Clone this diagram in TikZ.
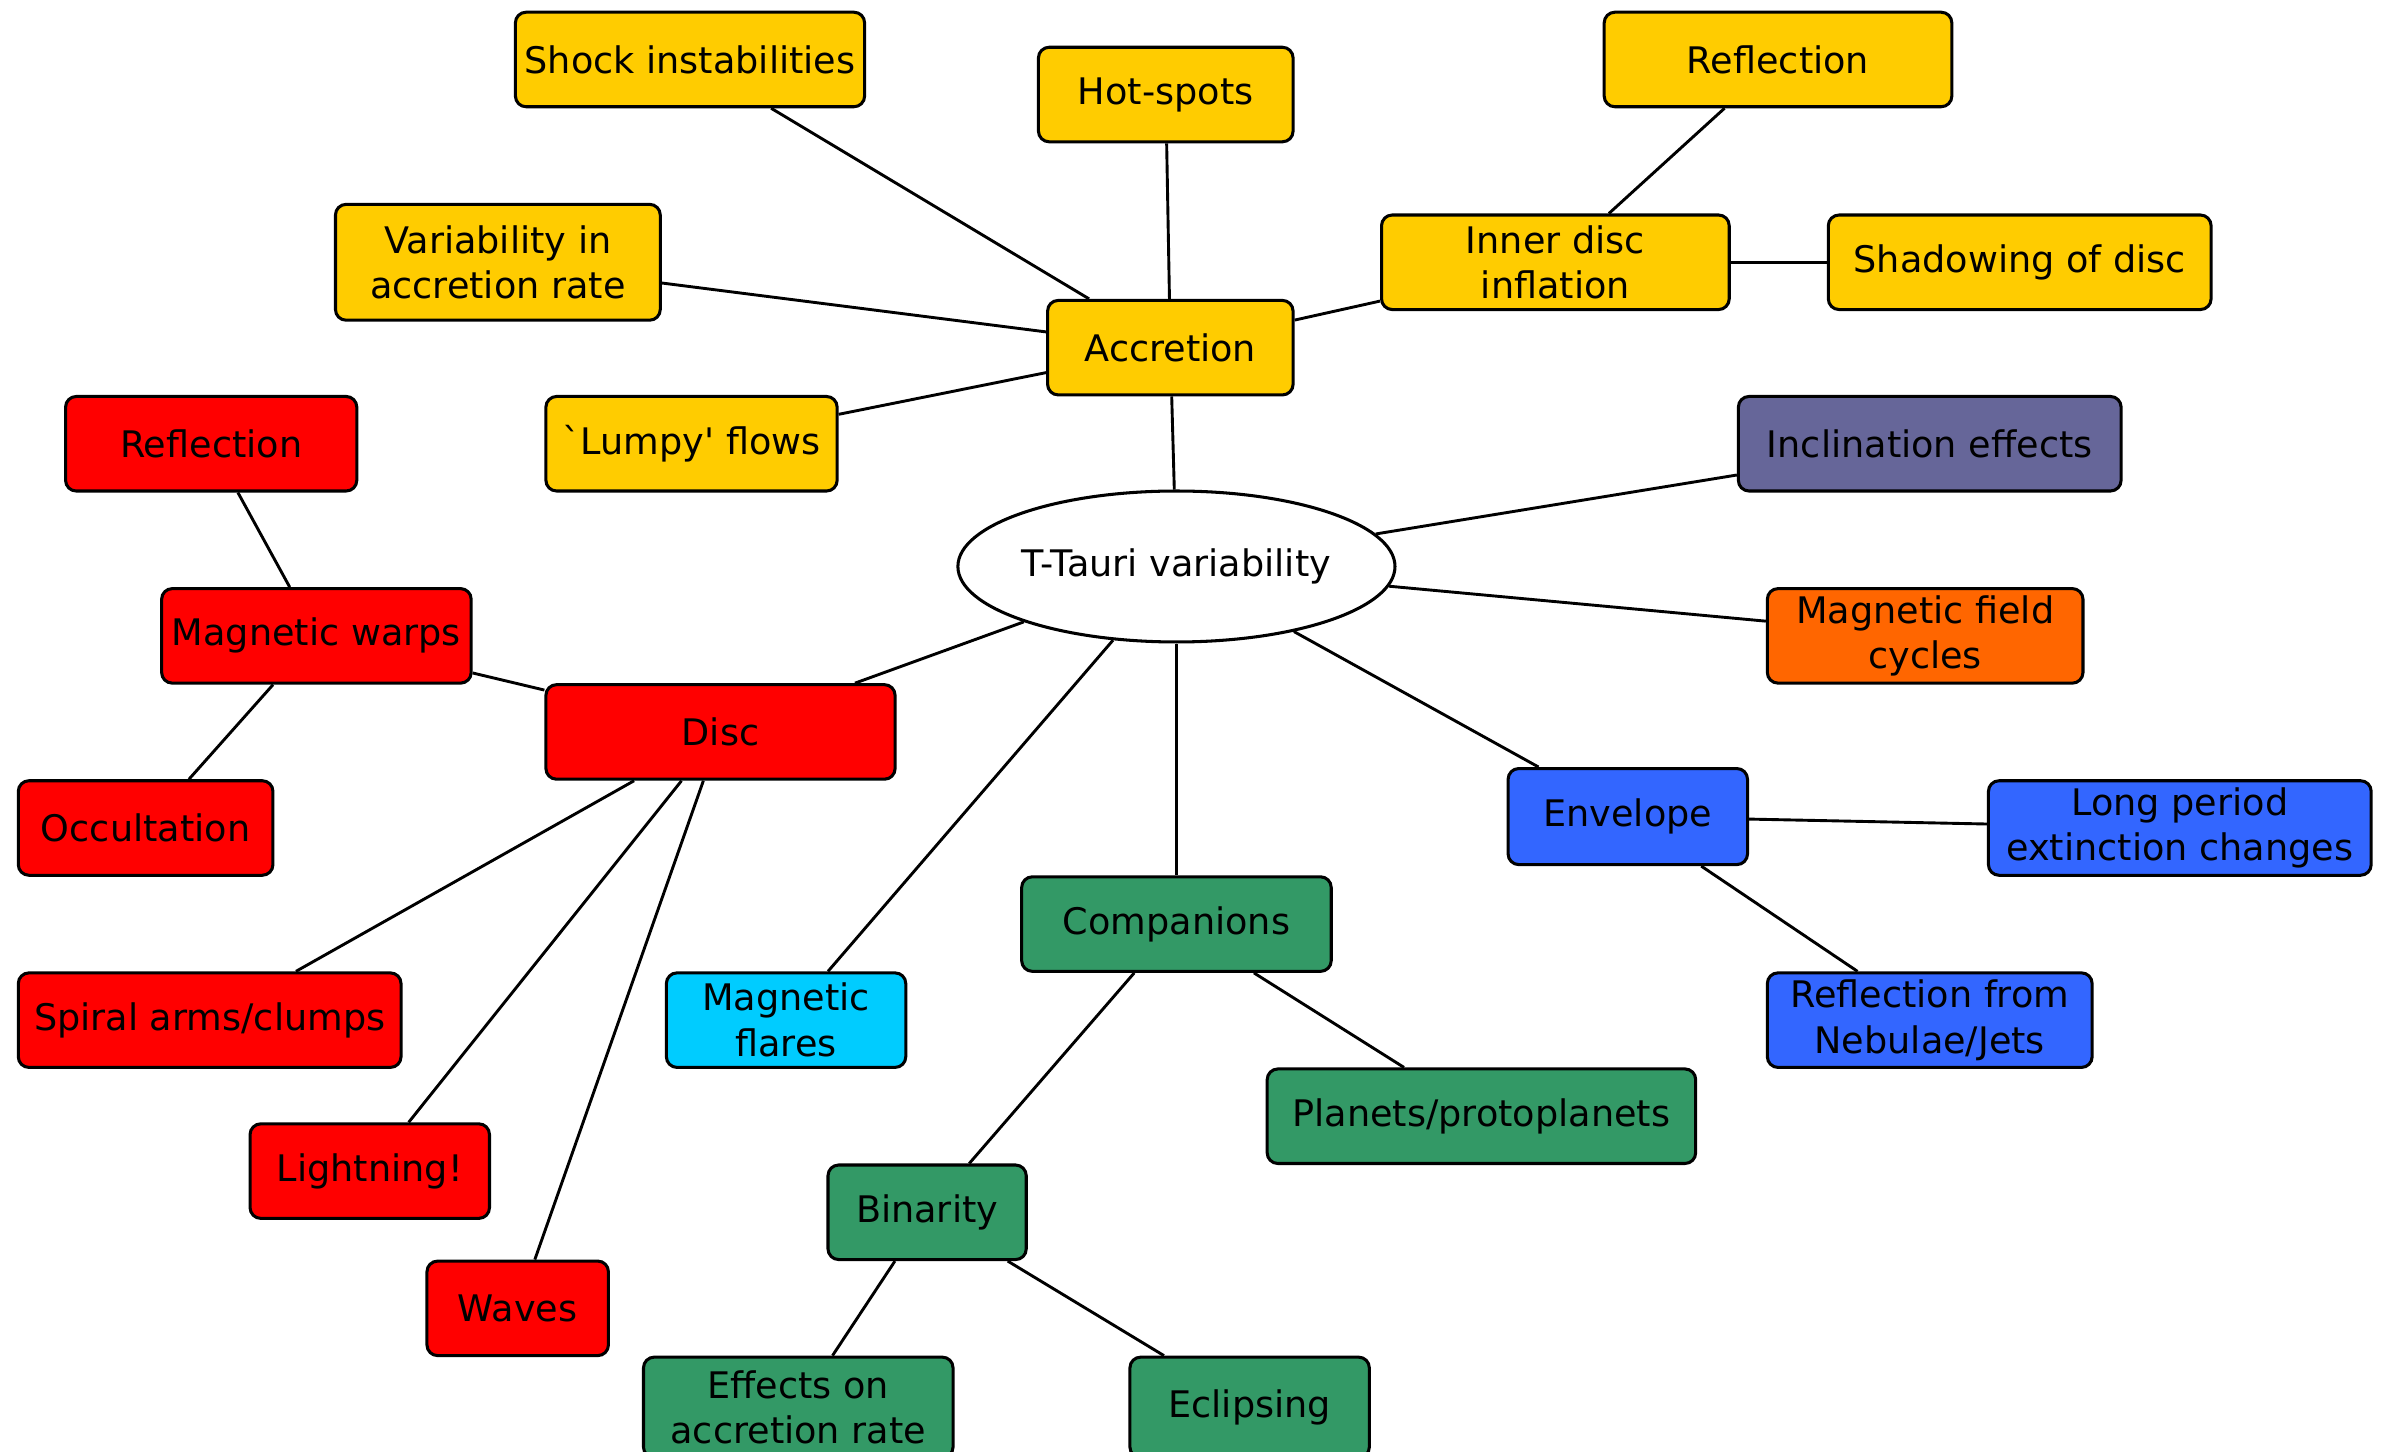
\documentclass[tikz,border=0pt]{standalone}
\usepackage{fontspec}
\setmainfont{DejaVu Sans}[Ligatures=TeXOff]
\usetikzlibrary{shapes.geometric}
\definecolor{cyel}{HTML}{FFCC00}
\definecolor{cred}{HTML}{FF0000}
\definecolor{cpur}{HTML}{666699}
\definecolor{cora}{HTML}{FF6600}
\definecolor{cblu}{HTML}{3366FF}
\definecolor{ccya}{HTML}{00CCFF}
\definecolor{cgre}{HTML}{339966}
\tikzset{
  box/.style={draw, line width=2pt, rounded corners=7pt, inner sep=0pt, align=center,
    font=\fontsize{24}{30}\selectfont},
  link/.style={line width=1.9pt},
}
\newcommand{\bx}[7]{\node[box, fill=#1, minimum width=#4pt, minimum height=#5pt] (#2) at (#6,#7) {#3};}
\begin{document}
\begin{tikzpicture}[x=1pt,y=-1pt]
\useasboundingbox[fill=white] (0,0) rectangle (1568,952);
% accretion group
\bx{cyel}{shock}{Shock instabilities}{229}{62}{452.5}{39}
\bx{cyel}{hot}{Hot-spots}{167}{62}{764.5}{62}
\bx{cyel}{refa}{Reflection}{228}{62}{1166}{39}
\bx{cyel}{varr}{Variability in\\accretion rate}{213}{76}{326.5}{172}
\bx{cyel}{inner}{Inner disc\\inflation}{228}{62}{1020}{172}
\bx{cyel}{shad}{Shadowing of disc}{251}{62}{1324.5}{172}
\bx{cyel}{acc}{Accretion}{161}{62}{767.5}{228}
\bx{cyel}{lumpy}{`Lumpy' flows}{191}{62}{453.5}{291}
% disc group
\bx{cred}{refd}{Reflection}{191}{62}{138.5}{291}
\bx{cred}{warp}{Magnetic warps}{203}{62}{207.5}{417}
\bx{cred}{disc}{Disc}{229}{62}{472.5}{480}
\bx{cred}{occ}{Occultation}{167}{62}{95.5}{543}
\bx{cred}{spiral}{Spiral arms/clumps}{251}{62}{137.5}{669}
\bx{cred}{light}{Lightning!}{157}{62}{242.5}{768}
\bx{cred}{waves}{Waves}{119}{62}{339.5}{858}
% others
\bx{cpur}{incl}{Inclination effects}{251}{62}{1265.5}{291}
\bx{cora}{mfc}{Magnetic field\\cycles}{207}{62}{1262.5}{417}
\bx{cblu}{env}{Envelope}{157}{63}{1067.5}{535.5}
\bx{cblu}{longp}{Long period\\extinction changes}{251}{62}{1429.5}{543}
\bx{cblu}{refn}{Reflection from\\Nebulae/Jets}{213}{62}{1265.5}{669}
\bx{ccya}{flares}{Magnetic\\flares}{157}{62}{515.5}{669}
\bx{cgre}{comp}{Companions}{203}{62}{771.5}{606}
\bx{cgre}{plan}{Planets/protoplanets}{281}{62}{971.5}{732}
\bx{cgre}{bin}{Binarity}{130}{62}{608}{795}
\bx{cgre}{effa}{Effects on\\accretion rate}{203}{66}{523.5}{923}
\bx{cgre}{ecl}{Eclipsing}{157}{66}{819.5}{923}
% centre
\node[draw, ellipse, line width=2pt, fill=white, inner sep=0pt, minimum width=281pt, minimum height=99pt,
  font=\fontsize{24}{30}\selectfont] (tt) at (771.5,371.5) {T-Tauri variability};
% links
\draw[link] (tt) -- (acc);
\draw[link] (acc) -- (shock);
\draw[link] (acc) -- (hot);
\draw[link] (acc) -- (varr);
\draw[link] (acc) -- (lumpy);
\draw[link] (acc) -- (inner);
\draw[link] (inner) -- (refa);
\draw[link] (inner) -- (shad);
\draw[link] (tt) -- (incl);
\draw[link] (tt) -- (mfc);
\draw[link] (tt) -- (env);
\draw[link] (env) -- (longp);
\draw[link] (env) -- (refn);
\draw[link] (tt) -- (comp);
\draw[link] (comp) -- (plan);
\draw[link] (comp) -- (bin);
\draw[link] (bin) -- (effa);
\draw[link] (bin) -- (ecl);
\draw[link] (tt) -- (flares);
\draw[link] (tt) -- (disc);
\draw[link] (disc) -- (warp);
\draw[link] (warp) -- (refd);
\draw[link] (warp) -- (occ);
\draw[link] (disc) -- (spiral);
\draw[link] (disc) -- (light);
\draw[link] (disc) -- (waves);
\end{tikzpicture}
\end{document}
